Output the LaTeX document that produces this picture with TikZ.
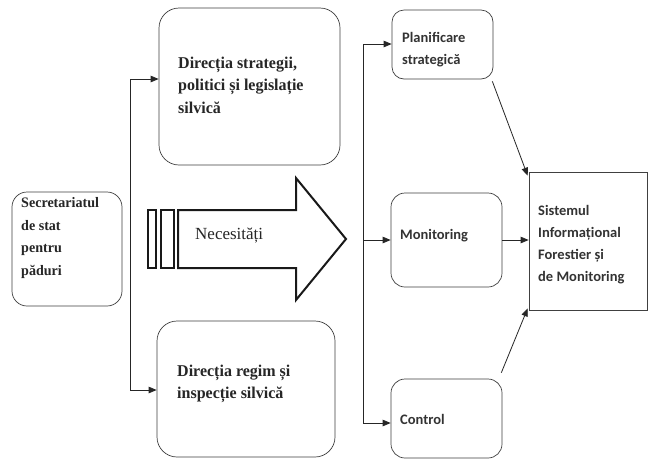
\documentclass[tikz,border=0pt]{standalone}
\usepackage{fontspec}
\setmainfont{Liberation Serif}
\newfontfamily\serifbold[FakeStretch=0.97]{Liberation Serif}
\newfontfamily\sansbold{Carlito}
\usetikzlibrary{arrows.meta}
\begin{document}
\begin{tikzpicture}[x=1pt,y=-1pt,
  frame/.style={draw=black!75, line width=0.7pt, rounded corners=#1, inner sep=0pt},
  frame/.default=16pt,
  sqframe/.style={draw=black!75, line width=0.7pt, inner sep=0pt},
  link/.style={draw=black!85, line width=0.8pt},
  arrow/.style={link, -{Triangle[length=8pt,width=6.5pt]}},
  lblserif/.style={anchor=west, align=left, inner sep=0pt,
    font=\serifbold\bfseries\fontsize{16.5}{22.5}\selectfont, text=black!85},
  lblsec/.style={lblserif, font=\serifbold\bfseries\fontsize{14.5}{22.7}\selectfont},
  lblsans/.style={anchor=west, align=left, inner sep=0pt,
    font=\sansbold\bfseries\fontsize{14.5}{22}\selectfont, text=black!80},
  bigarrow/.style={draw=black!90, line width=2pt, line join=miter, fill=white}
]
\useasboundingbox[fill=white] (0,0) rectangle (653,459);

% boxes
\node[frame=15pt, minimum width=110pt, minimum height=114pt] (sec) at (67,249) {};
\node[frame=20pt, minimum width=181pt, minimum height=157pt] (dirS) at (249.5,86.5) {};
\node[frame=20pt, minimum width=178pt, minimum height=136pt] (dirR) at (246,389) {};
\node[frame=12pt, minimum width=101pt, minimum height=69pt] (plan) at (442.5,44.5) {};
\node[frame=14pt, minimum width=111pt, minimum height=94pt] (mon) at (446.5,240) {};
\node[frame=14pt, minimum width=111pt, minimum height=79pt] (ctrl) at (446.5,418.5) {};
\node[sqframe, minimum width=118pt, minimum height=138pt] (sis) at (588,241) {};

% labels
\node[lblsec] (secT) at (21,238) {Secretariatul\\de stat\\pentru\\păduri};
\node[lblserif] (dirST) at (178,85) {Direcția strategii,\\politici și legislație\\silvică};
\node[lblserif] (dirRT) at (177,384) {Direcția regim și\\inspecție silvică};
\node[lblsans] (planT) at (402,50) {Planificare\\strategică};
\node[lblsans] (monT) at (400,236) {Monitoring};
\node[lblsans] (ctrlT) at (400,419) {Control};
\node[lblsans] (sisT) at (538,245) {Sistemul\\Informațional\\Forestier și\\de Monitoring};

% broad arrow with two bars
\draw[bigarrow] (178,210) -- (296,210) -- (296,178) -- (346,239)
  -- (296,300) -- (296,268) -- (178,268) -- cycle;
\draw[draw=black!90, line width=1.5pt] (148,210) rectangle (156,268);
\draw[draw=black!90, line width=1.5pt] (161,210) rectangle (174,268);
\node[anchor=west, inner sep=0pt, font=\fontsize{17}{19}\selectfont, text=black!85] (need) at (195,235) {Necesități};

% left distribution line
\coordinate (ltop) at (130,79);
\coordinate (lbot) at (130,390);
\draw[link] (ltop) -- (lbot);
\draw[arrow] (ltop) -- (ltop -| dirS.west);
\draw[arrow] (lbot) -- (lbot -| dirR.west);

% right distribution line
\coordinate (rtop) at (363,44);
\coordinate (rmid) at (363,240);
\coordinate (rbot) at (363,423);
\draw[link] (rtop) -- (rbot);
\draw[arrow] (rtop) -- (rtop -| plan.west);
\draw[arrow] (rmid) -- (mon.west);
\draw[arrow] (rbot) -- (rbot -| ctrl.west);

% into the information system
\draw[arrow] ([xshift=-1pt,yshift=-2pt]plan.south east) -- ([xshift=-1pt,yshift=-4pt]sis.north west);
\draw[arrow] (mon.east) -- (mon.east -| sis.west);
\draw[arrow] ([xshift=-1pt,yshift=6pt]ctrl.north east) -- ([xshift=-1pt,yshift=2pt]sis.south west);
\end{tikzpicture}
\end{document}
